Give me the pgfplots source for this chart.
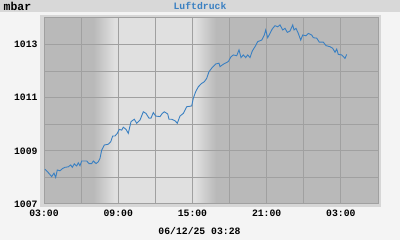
\documentclass[border=0pt]{standalone}
\usepackage{pgfplots}
\pgfplotsset{compat=1.18}
\usepackage{fontspec}
\setmainfont{Liberation Mono}
\definecolor{bgc}{HTML}{F4F4F4}
\definecolor{barc}{HTML}{D8D8D8}
\definecolor{framec}{HTML}{D6D6D6}
\definecolor{darkc}{HTML}{B9B9B9}
\definecolor{lightc}{HTML}{E0E0E0}
\definecolor{gridc}{HTML}{A0A0A0}
\definecolor{linec}{HTML}{3A80C2}
\pgfdeclarehorizontalshading{daynight}{100bp}{color(0bp)=(darkc); color(32.4bp)=(darkc); color(35.55bp)=(lightc); color(47.6bp)=(lightc); color(50.75bp)=(darkc); color(100bp)=(darkc)}
\pgfplotstableread{
h p
3.081 1008.31
3.348 1008.18
3.622 1008.03
3.808 1008.16
3.946 1008.00
4.075 1008.28
4.293 1008.25
4.512 1008.34
4.698 1008.38
4.964 1008.40
5.158 1008.47
5.288 1008.38
5.449 1008.51
5.644 1008.43
5.773 1008.55
5.910 1008.44
6.048 1008.62
6.452 1008.62
6.638 1008.52
6.856 1008.52
6.986 1008.62
7.204 1008.52
7.390 1008.59
7.527 1008.72
7.665 1009.03
7.875 1009.22
8.198 1009.25
8.392 1009.34
8.554 1009.56
8.740 1009.56
8.926 1009.66
9.087 1009.81
9.281 1009.78
9.411 1009.89
9.629 1009.81
9.815 1009.66
10.033 1010.10
10.300 1010.19
10.494 1010.04
10.761 1010.16
11.028 1010.47
11.246 1010.41
11.488 1010.23
11.650 1010.23
11.836 1010.44
12.030 1010.31
12.378 1010.29
12.563 1010.41
12.725 1010.47
13.000 1010.39
13.105 1010.19
13.323 1010.19
13.590 1010.13
13.776 1010.04
13.994 1010.31
14.261 1010.41
14.536 1010.66
14.940 1010.69
15.070 1010.98
15.264 1011.23
15.474 1011.41
15.749 1011.54
15.959 1011.60
16.153 1011.73
16.339 1011.98
16.606 1012.14
16.881 1012.27
17.147 1012.30
17.228 1012.17
17.495 1012.26
17.899 1012.36
18.117 1012.54
18.303 1012.61
18.578 1012.58
18.764 1012.80
18.926 1012.51
19.112 1012.61
19.306 1012.51
19.468 1012.61
19.654 1012.51
19.840 1012.76
20.058 1012.92
20.276 1013.11
20.600 1013.17
20.810 1013.36
20.923 1013.55
21.084 1013.26
21.270 1013.42
21.456 1013.59
21.674 1013.71
21.893 1013.67
22.079 1013.74
22.297 1013.55
22.483 1013.61
22.669 1013.46
22.887 1013.51
23.105 1013.74
23.211 1013.55
23.372 1013.61
23.558 1013.42
23.752 1013.17
23.914 1013.36
24.180 1013.33
24.366 1013.42
24.641 1013.36
24.771 1013.26
25.046 1013.24
25.256 1013.09
25.579 1013.09
25.797 1012.96
26.120 1012.92
26.339 1012.86
26.525 1012.71
26.662 1012.83
26.792 1012.63
27.067 1012.61
27.333 1012.48
27.471 1012.63
}\datatable
\begin{document}
\begin{tikzpicture}
\fill[bgc] (0bp,0bp) rectangle (400bp,240bp);
\fill[barc] (0bp,228bp) rectangle (400bp,240bp);
\fill[framec] (40bp,33bp) rectangle (381bp,225bp);
\node[font=\bfseries\fontsize{11.5}{12}\selectfont, anchor=west, inner sep=0pt] at (3.5bp,234bp) {mbar};
\node[font=\bfseries\fontsize{9.8}{10}\selectfont, text=linec, inner sep=0pt] at (200bp,234.5bp) {Luftdruck};
\node[font=\bfseries\fontsize{9.8}{10}\selectfont, inner sep=0pt] at (199.5bp,9bp) {06/12/25 03:28};
\begin{axis}[
  at={(44bp,36bp)}, anchor=south west,
  scale only axis, width=334bp, height=186bp,
  xmin=3, xmax=30, ymin=1007, ymax=1014,
  axis background/.style={shade, shading=daynight},
  xtick={3,9,15,21,27},
  xticklabels={03:00,09:00,15:00,21:00,03:00},
  minor xtick={6,12,18,24,30},
  ytick={1007,1009,1011,1013},
  yticklabels={1007,1009,1011,1013},
  minor ytick={1008,1010,1012,1014},
  scaled y ticks=false,
  grid=both,
  major grid style={gridc, line width=1bp},
  minor grid style={gridc, line width=1bp},
  axis line style={gridc, line width=1bp},
  major tick length=0pt, minor tick length=0pt,
  tick label style={font=\bfseries\fontsize{9.8}{10}\selectfont, text=black},
  xticklabel style={yshift=-2.5bp},
  yticklabel style={xshift=-3bp},
  clip=true,
]
\addplot[linec, line width=0.9bp, sharp plot, mark=none] table[x=h,y=p] {\datatable};
\end{axis}
\end{tikzpicture}
\end{document}
